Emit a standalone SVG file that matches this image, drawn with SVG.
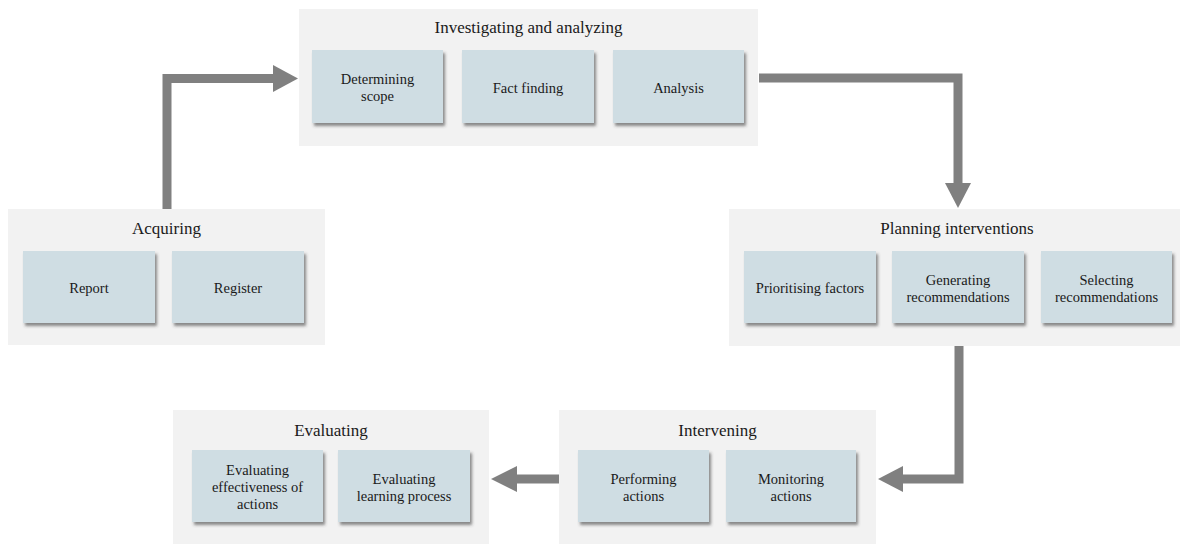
<svg xmlns="http://www.w3.org/2000/svg" width="1180" height="544" viewBox="0 0 1180 544">
<defs>
<filter id="sh" x="-10%" y="-10%" width="125%" height="130%">
<feDropShadow dx="2" dy="3" stdDeviation="1.5" flood-color="#404040" flood-opacity="0.6"/>
</filter>
<style>
.cont{fill:#f2f2f2}
.box{fill:#cfdde3;filter:url(#sh)}
.title{font-family:"Liberation Serif","Times New Roman",serif;font-size:17px;fill:#1a1a1a;text-anchor:middle}
.lbl{font-family:"Liberation Serif","Times New Roman",serif;font-size:14.5px;fill:#1a1a1a;text-anchor:middle}
.line{fill:none;stroke:#808080;stroke-width:9;stroke-linejoin:miter}
.head{fill:#808080}
</style>
</defs>
<rect width="1180" height="544" fill="#ffffff"/>

<g id="connectors">
<polyline class="line" points="167,209 167,78.5 274,78.5"/>
<polygon class="head" points="273,65 298,78.5 273,92"/>
<polyline class="line" points="759,78 958,78 958,184"/>
<polygon class="head" points="945,183 958,208 971,183"/>
<polyline class="line" points="959,346 959,479 902,479"/>
<polygon class="head" points="903,466 878,479 903,492"/>
<polyline class="line" points="559,479 516,479"/>
<polygon class="head" points="517,466 491,479 517,492"/>
</g>

<g id="acquiring">
<rect class="cont" x="8" y="209" width="317" height="136"/>
<text class="title" x="166.5" y="233.5">Acquiring</text>
<g id="report"><rect class="box" x="23" y="251" width="132" height="72"/>
<text class="lbl" x="89" y="293">Report</text></g>
<g id="register"><rect class="box" x="172" y="251" width="132" height="72"/>
<text class="lbl" x="238" y="293">Register</text></g>
</g>

<g id="investigating">
<rect class="cont" x="299" y="9" width="459" height="137"/>
<text class="title" x="528.5" y="33">Investigating and analyzing</text>
<g id="determining"><rect class="box" x="312" y="50" width="131" height="73"/>
<text class="lbl" x="377.5" y="84">Determining</text>
<text class="lbl" x="377.5" y="101">scope</text></g>
<g id="factfinding"><rect class="box" x="462" y="50" width="132" height="73"/>
<text class="lbl" x="528" y="93">Fact finding</text></g>
<g id="analysis"><rect class="box" x="613" y="50" width="131" height="73"/>
<text class="lbl" x="678.5" y="93">Analysis</text></g>
</g>

<g id="planning">
<rect class="cont" x="729" y="209" width="451" height="137"/>
<text class="title" x="957" y="233.5">Planning interventions</text>
<g id="prioritising"><rect class="box" x="744" y="251" width="132" height="72"/>
<text class="lbl" x="810" y="293">Prioritising factors</text></g>
<g id="generating"><rect class="box" x="892" y="251" width="132" height="72"/>
<text class="lbl" x="958" y="284.5">Generating</text>
<text class="lbl" x="958" y="301.5">recommendations</text></g>
<g id="selecting"><rect class="box" x="1041" y="251" width="131" height="72"/>
<text class="lbl" x="1106.5" y="284.5">Selecting</text>
<text class="lbl" x="1106.5" y="301.5">recommendations</text></g>
</g>

<g id="intervening">
<rect class="cont" x="559" y="410" width="317" height="134"/>
<text class="title" x="717.5" y="435.5">Intervening</text>
<g id="performing"><rect class="box" x="578" y="450" width="131" height="72"/>
<text class="lbl" x="643.5" y="483.5">Performing</text>
<text class="lbl" x="643.5" y="500.5">actions</text></g>
<g id="monitoring"><rect class="box" x="726" y="450" width="130" height="72"/>
<text class="lbl" x="791" y="483.5">Monitoring</text>
<text class="lbl" x="791" y="500.5">actions</text></g>
</g>

<g id="evaluating">
<rect class="cont" x="173" y="410" width="316" height="134"/>
<text class="title" x="331" y="436">Evaluating</text>
<g id="effectiveness"><rect class="box" x="192" y="450" width="131" height="72"/>
<text class="lbl" x="257.5" y="475">Evaluating</text>
<text class="lbl" x="257.5" y="492">effectiveness of</text>
<text class="lbl" x="257.5" y="509">actions</text></g>
<g id="learning"><rect class="box" x="338" y="450" width="132" height="72"/>
<text class="lbl" x="404" y="483.5">Evaluating</text>
<text class="lbl" x="404" y="500.5">learning process</text></g>
</g>
</svg>
